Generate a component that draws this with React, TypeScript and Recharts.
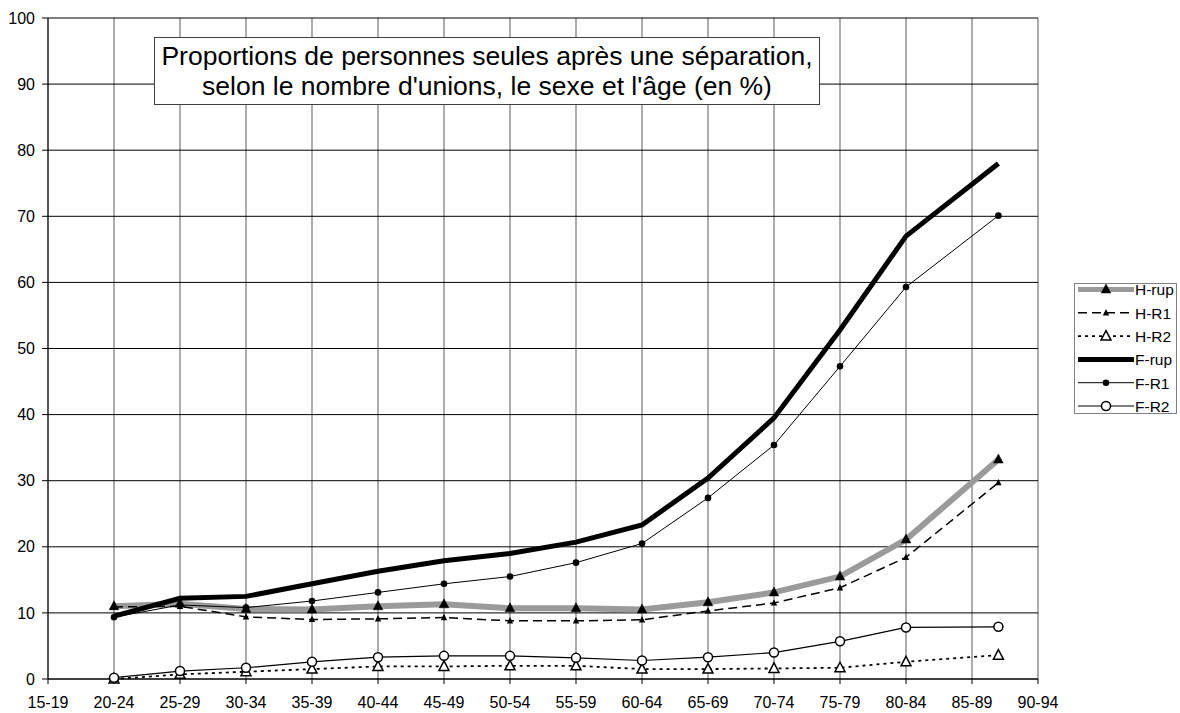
import React from 'react';
import { LineChart, Line, XAxis, YAxis, CartesianGrid } from 'recharts';

const ages = [20, 25, 30, 35, 40, 45, 50, 55, 60, 65, 70, 75, 80, 87];
const xTicks = [15, 20, 25, 30, 35, 40, 45, 50, 55, 60, 65, 70, 75, 80, 85, 90];
const xTickLabels = ['15-19', '20-24', '25-29', '30-34', '35-39', '40-44', '45-49', '50-54', '55-59', '60-64', '65-69', '70-74', '75-79', '80-84', '85-89', '90-94'];
const yTicks = [0, 10, 20, 30, 40, 50, 60, 70, 80, 90, 100];

const hRup = [11.0, 11.4, 10.6, 10.5, 11.0, 11.3, 10.7, 10.7, 10.5, 11.6, 13.1, 15.5, 21.1, 33.2];
const hR1 = [10.9, 11.0, 9.4, 9.0, 9.1, 9.3, 8.8, 8.8, 8.95, 10.3, 11.5, 13.8, 18.4, 29.7];
const hR2 = [0.0, 0.7, 1.1, 1.5, 1.9, 1.9, 2.0, 2.0, 1.5, 1.5, 1.6, 1.7, 2.6, 3.6];
const fRup = [9.5, 12.2, 12.5, 14.4, 16.3, 17.9, 19.0, 20.7, 23.3, 30.4, 39.5, 52.8, 67.0, 78.0];
const fR1 = [9.35, 11.2, 10.8, 11.8, 13.1, 14.4, 15.5, 17.6, 20.5, 27.4, 35.4, 47.3, 59.3, 70.1];
const fR2 = [0.2, 1.2, 1.7, 2.6, 3.3, 3.5, 3.5, 3.2, 2.8, 3.3, 4.0, 5.7, 7.8, 7.9];

const seriesNames = ['H-rup', 'H-R1', 'H-R2', 'F-rup', 'F-R1', 'F-R2'];
const titleLines = ["Proportions de personnes seules après une séparation,", "selon le nombre d'unions, le sexe et l'âge (en %)"];

const data = ages.map((a, i) => ({
  age: a,
  hRup: hRup[i],
  hR1: hR1[i],
  hR2: hR2[i],
  fRup: fRup[i],
  fR1: fR1[i],
  fR2: fR2[i],
}));

const FONT = 'Arial, "Liberation Sans", sans-serif';

type MarkerKind = 'bigTri' | 'smallTri' | 'openTri' | 'dot' | 'openCircle' | 'none';

function Marker({ kind, cx, cy }: { kind: MarkerKind; cx: number; cy: number }) {
  if (kind === 'bigTri') {
    return <polygon points={`${cx},${cy - 5.5} ${cx - 4.8},${cy + 3.5} ${cx + 4.8},${cy + 3.5}`} fill="#000" stroke="#000" strokeWidth={0.5} />;
  }
  if (kind === 'smallTri') {
    return <polygon points={`${cx},${cy - 3.8} ${cx - 3.2},${cy + 2.6} ${cx + 3.2},${cy + 2.6}`} fill="#000" />;
  }
  if (kind === 'openTri') {
    return <polygon points={`${cx},${cy - 5.5} ${cx - 5},${cy + 4} ${cx + 5},${cy + 4}`} fill="#fff" stroke="#000" strokeWidth={1.5} />;
  }
  if (kind === 'dot') {
    return <circle cx={cx} cy={cy} r={3.3} fill="#000" />;
  }
  if (kind === 'openCircle') {
    return <circle cx={cx} cy={cy} r={4.5} fill="#fff" stroke="#000" strokeWidth={1.5} />;
  }
  return null;
}

const makeDot = (kind: MarkerKind) => (props: any) => {
  const { cx, cy, index } = props;
  if (cx == null || cy == null) return <g key={`d-${kind}-${index}`} />;
  return (
    <g key={`d-${kind}-${index}`}>
      <Marker kind={kind} cx={cx} cy={cy} />
    </g>
  );
};

const legendStyles: { stroke: string; width: number; dash?: string; marker: MarkerKind }[] = [
  { stroke: '#9a9a9a', width: 5, marker: 'bigTri' },
  { stroke: '#000', width: 1.5, dash: '9 5', marker: 'smallTri' },
  { stroke: '#000', width: 1.8, dash: '3 4', marker: 'openTri' },
  { stroke: '#000', width: 5, marker: 'none' },
  { stroke: '#000', width: 1, marker: 'dot' },
  { stroke: '#000', width: 1, marker: 'openCircle' },
];

function LegendBox() {
  const rowH = 23.3;
  return (
    <svg width={106} height={131} style={{ display: 'block', overflow: 'visible' }}>
      <rect x={0.5} y={0.5} width={102} height={130} fill="#fff" stroke="#808080" strokeWidth={1} />
      {seriesNames.map((name, i) => {
        const y = 6.5 + i * rowH;
        const st = legendStyles[i];
        return (
          <g key={name}>
            <line x1={4} x2={60} y1={y} y2={y} stroke={st.stroke} strokeWidth={st.width} strokeDasharray={st.dash} />
            <Marker kind={st.marker} cx={32} cy={y} />
            <text x={61} y={y + 5.8} fontSize={15.5} fontFamily={FONT} fill="#000">{name}</text>
          </g>
        );
      })}
    </svg>
  );
}

export default function App() {
  return (
    <div style={{ position: 'absolute', left: 0, top: 0, width: 1180, height: 713, background: '#fff', fontFamily: FONT }}>
      <LineChart width={1180} height={713} data={data} margin={{ top: 18, right: 142, bottom: 0, left: 0 }}>
        <CartesianGrid horizontal={false} vertical={true} stroke="#808080" strokeWidth={1.3} />
        <CartesianGrid horizontal={true} vertical={false} stroke="#000" strokeWidth={1} />
        <XAxis
          dataKey="age"
          type="number"
          domain={[15, 90]}
          ticks={xTicks}
          tickFormatter={(v: number) => xTickLabels[xTicks.indexOf(v)] ?? ''}
          interval={0}
          height={34}
          tickSize={5}
          tickMargin={13}
          stroke="#000"
          tick={{ fill: '#000', fontSize: 16, fontFamily: FONT }}
          allowDataOverflow
        />
        <YAxis
          type="number"
          domain={[0, 100]}
          ticks={yTicks}
          width={48}
          tickSize={6}
          tickMargin={7}
          stroke="#000"
          tick={{ fill: '#000', fontSize: 16, fontFamily: FONT }}
          interval={0}
        />
        <Line name="H-rup" dataKey="hRup" stroke="#9a9a9a" strokeWidth={6} dot={makeDot('bigTri')} activeDot={false} isAnimationActive={false} />
        <Line name="H-R1" dataKey="hR1" stroke="#000" strokeWidth={1.5} strokeDasharray="9 5" dot={makeDot('smallTri')} activeDot={false} isAnimationActive={false} />
        <Line name="H-R2" dataKey="hR2" stroke="#000" strokeWidth={1.8} strokeDasharray="3 4" dot={makeDot('openTri')} activeDot={false} isAnimationActive={false} />
        <Line name="F-rup" dataKey="fRup" stroke="#000" strokeWidth={5} dot={false} activeDot={false} isAnimationActive={false} />
        <Line name="F-R1" dataKey="fR1" stroke="#000" strokeWidth={1} dot={makeDot('dot')} activeDot={false} isAnimationActive={false} />
        <Line name="F-R2" dataKey="fR2" stroke="#000" strokeWidth={1.2} dot={makeDot('openCircle')} activeDot={false} isAnimationActive={false} />
      </LineChart>
      <div style={{ position: 'absolute', left: 1074, top: 283 }}>
        <LegendBox />
      </div>
      <div
        style={{
          position: 'absolute',
          left: 154,
          top: 37,
          width: 666,
          height: 68,
          boxSizing: 'border-box',
          border: '1px solid #404040',
          background: '#fff',
          textAlign: 'center',
          fontSize: 26.5,
          lineHeight: '30px',
          paddingTop: 3,
          color: '#000',
        }}
      >
        {titleLines.map((t) => (
          <div key={t} style={{ whiteSpace: 'nowrap' }}>{t}</div>
        ))}
      </div>
    </div>
  );
}
